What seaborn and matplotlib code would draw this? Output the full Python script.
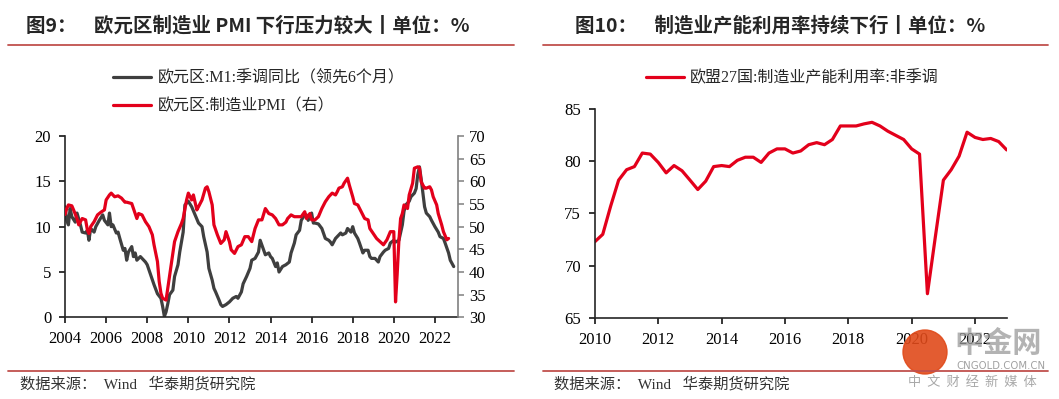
import matplotlib as mpl
import matplotlib.pyplot as plt
import seaborn as sns
import numpy as np
import pandas as pd
from matplotlib.patches import Ellipse

# 欧元区 M1 季调同比（领先6个月）
m1_dates = ['2004-01', '2004-02', '2004-03', '2004-04', '2004-05', '2004-07', '2004-08', '2004-10', '2004-11',
            '2005-01', '2005-02', '2005-03', '2005-04', '2005-06', '2005-07', '2005-09', '2005-11', '2005-12',
            '2006-02', '2006-03', '2006-04', '2006-05', '2006-07', '2006-08', '2006-09', '2006-11', '2006-12',
            '2007-01', '2007-02', '2007-04', '2007-05', '2007-06', '2007-07', '2007-09', '2007-10', '2007-12',
            '2008-01', '2008-03', '2008-04', '2008-05', '2008-07', '2008-09', '2008-10', '2008-11', '2008-12',
            '2009-01', '2009-02', '2009-04', '2009-05', '2009-07', '2009-08', '2009-10', '2009-11', '2009-12',
            '2010-01', '2010-03', '2010-05', '2010-07', '2010-09', '2010-10', '2010-12',
            '2011-01', '2011-03', '2011-04', '2011-05', '2011-07', '2011-08', '2011-09', '2011-11',
            '2012-01', '2012-03', '2012-05', '2012-06', '2012-08', '2012-09', '2012-11',
            '2013-01', '2013-02', '2013-04', '2013-06', '2013-07', '2013-09', '2013-10', '2013-12',
            '2014-01', '2014-02', '2014-04', '2014-05', '2014-06', '2014-08', '2014-10', '2014-12',
            '2015-01', '2015-03', '2015-04', '2015-06', '2015-07', '2015-09', '2015-10', '2015-11',
            '2016-01', '2016-02', '2016-03', '2016-05', '2016-07', '2016-09', '2016-11', '2016-12',
            '2017-01', '2017-03', '2017-05', '2017-06', '2017-07', '2017-09', '2017-10', '2017-12',
            '2018-01', '2018-02', '2018-04', '2018-05', '2018-07', '2018-08', '2018-10', '2018-11', '2018-12',
            '2019-02', '2019-04', '2019-05', '2019-07', '2019-08', '2019-10', '2019-11',
            '2020-01', '2020-02', '2020-04', '2020-06', '2020-07', '2020-08', '2020-10', '2020-11',
            '2021-01', '2021-02', '2021-03', '2021-04', '2021-05', '2021-07', '2021-08', '2021-10', '2021-11',
            '2022-01', '2022-03', '2022-04', '2022-06', '2022-07', '2022-09', '2022-10', '2022-12']
m1_values = [12.2, 10.7, 10.2, 12.0, 11.1, 10.5, 11.5, 10.2, 9.4,
             9.3, 9.6, 8.5, 9.8, 9.4, 10.0, 10.7, 11.3, 10.7,
             10.2, 11.5, 10.0, 10.2, 9.3, 9.4, 8.7, 7.4, 7.6,
             6.3, 7.2, 7.8, 6.7, 7.1, 6.3, 6.7, 6.5, 6.1,
             5.8, 4.7, 4.1, 3.6, 2.6, 2.1, 1.2, 0.1, 0.6,
             1.5, 2.5, 3.0, 4.5, 5.8, 7.2, 9.4, 12.4, 12.6,
             12.8, 12.2, 11.3, 10.4, 10.0, 8.9, 7.2,
             5.4, 4.1, 3.2, 2.8, 1.9, 1.4, 1.2, 1.4,
             1.7, 2.1, 2.3, 2.1, 2.8, 3.7, 4.5,
             5.4, 6.3, 6.5, 7.2, 8.5, 7.4, 6.9, 7.1,
             6.7, 6.5, 5.6, 6.0, 5.0, 5.6, 5.8, 6.1,
             7.1, 8.2, 9.1, 9.6, 10.7, 11.3, 11.3, 10.7,
             11.5, 10.4, 10.4, 10.3, 9.8, 8.7, 8.5, 8.3,
             8.0, 8.7, 9.1, 9.3, 9.1, 9.3, 9.8, 9.4,
             10.0, 9.3, 8.7, 8.2, 7.1, 7.4, 7.4, 6.7, 6.5,
             6.5, 6.1, 6.7, 7.2, 7.4, 7.6, 8.2,
             8.5, 8.3, 8.5, 10.2, 11.7, 12.4, 12.8, 13.3,
             13.7, 14.2, 15.7, 16.6, 15.3, 12.2, 11.5, 11.1, 10.7,
             10.0, 9.4, 8.9, 8.7, 8.2, 7.1, 6.3, 5.6]

# 欧元区 制造业PMI（右轴）
pmi_dates = ['2004-01', '2004-02', '2004-03', '2004-05', '2004-06', '2004-08', '2004-09', '2004-11',
             '2005-01', '2005-02', '2005-03', '2005-04', '2005-06', '2005-08', '2005-10', '2005-12',
             '2006-01', '2006-03', '2006-04', '2006-06', '2006-08', '2006-10', '2006-12',
             '2007-01', '2007-04', '2007-05', '2007-07', '2007-08', '2007-10', '2007-12',
             '2008-02', '2008-04', '2008-05', '2008-07', '2008-08', '2008-09', '2008-10', '2008-12',
             '2009-01', '2009-03', '2009-05', '2009-07', '2009-09', '2009-10', '2009-12',
             '2010-01', '2010-03', '2010-04', '2010-06', '2010-07', '2010-09', '2010-11', '2010-12',
             '2011-01', '2011-03', '2011-04', '2011-06', '2011-08', '2011-10', '2011-11',
             '2012-01', '2012-02', '2012-04', '2012-06', '2012-08', '2012-10', '2012-12',
             '2013-02', '2013-04', '2013-06', '2013-08', '2013-10', '2013-12',
             '2014-02', '2014-04', '2014-06', '2014-08', '2014-10', '2014-11',
             '2015-01', '2015-03', '2015-05', '2015-07', '2015-09', '2015-10', '2015-12',
             '2016-01', '2016-03', '2016-05', '2016-07', '2016-09', '2016-11',
             '2017-01', '2017-03', '2017-04', '2017-05', '2017-07', '2017-08', '2017-10', '2017-11',
             '2018-01', '2018-02', '2018-04', '2018-06', '2018-08', '2018-10', '2018-11',
             '2019-01', '2019-03', '2019-05', '2019-07', '2019-09', '2019-11',
             '2020-01', '2020-02', '2020-03', '2020-04', '2020-05', '2020-06', '2020-07', '2020-09', '2020-10', '2020-12',
             '2021-01', '2021-03', '2021-04', '2021-05', '2021-07', '2021-08', '2021-10', '2021-11', '2021-12',
             '2022-02', '2022-03', '2022-05', '2022-06', '2022-08', '2022-09']
pmi_values = [52.7, 54.0, 54.8, 54.6, 53.7, 51.8, 50.4, 51.8,
              51.5, 49.3, 48.5, 50.0, 51.1, 52.6, 53.2, 53.7,
              55.9, 57.0, 57.4, 56.6, 56.8, 56.3, 55.4,
              55.4, 55.1, 54.0, 51.8, 52.9, 52.6, 51.1,
              50.0, 48.2, 46.0, 42.3, 37.9, 35.3, 34.2, 33.8,
              36.4, 41.5, 46.7, 48.9, 50.7, 51.8, 55.9,
              57.4, 55.9, 57.0, 53.7, 54.4, 55.9, 58.5, 58.8,
              57.7, 54.8, 50.4, 48.2, 46.3, 47.1, 48.9,
              46.7, 44.9, 44.1, 45.6, 46.0, 47.8, 47.8,
              46.7, 49.6, 51.5, 51.5, 54.0, 52.9,
              52.6, 51.8, 50.4, 50.4, 51.0, 51.8,
              52.6, 52.2, 52.2, 52.2, 53.3, 51.8, 52.9,
              51.5, 51.5, 52.2, 54.0, 55.5, 56.6,
              57.4, 57.0, 57.7, 58.5, 58.8, 59.6, 60.7, 59.2,
              56.6, 55.1, 54.8, 53.3, 51.8, 51.5, 49.6,
              48.5, 47.4, 46.7, 46.0, 47.1, 48.9,
              48.9, 33.4, 39.5, 47.0, 51.8, 52.9, 54.8, 54.0, 57.0, 59.6,
              62.9, 63.2, 63.0, 59.9, 58.5, 58.5, 58.8, 58.1, 56.6,
              54.8, 52.9, 50.4, 48.9, 47.1, 47.4]

# 欧盟27国 制造业产能利用率（非季调，季度）
cu_quarters = pd.period_range('2010Q1', '2023Q1', freq='Q')
cu_values = [72.3, 73.0, 75.7, 78.2, 79.2, 79.5, 80.8, 80.7, 79.9, 78.9, 79.6, 79.1, 78.2,
             77.3, 78.1, 79.5, 79.6, 79.5, 80.1, 80.4, 80.4, 79.9, 80.8, 81.2, 81.2, 80.8,
             81.0, 81.6, 81.8, 81.6, 82.1, 83.4, 83.4, 83.4, 83.6, 83.75, 83.4, 82.9, 82.5,
             82.1, 81.2, 80.7, 67.3, 72.8, 78.2, 79.2, 80.5, 82.8, 82.3, 82.1, 82.2, 81.9, 81.1]

left_years = list(range(2004, 2023, 2))
right_years = list(range(2010, 2023, 2))

RED = '#E3001B'
GREY = '#3F3F3F'
RULE = '#C0504D'

sns.set_style('ticks')
plt.rcParams['font.family'] = ['Liberation Serif', 'Noto Sans CJK SC']
plt.rcParams['axes.linewidth'] = 1.2
CJK = ['Noto Sans CJK SC', 'DejaVu Sans']
MIX = ['Liberation Serif', 'Noto Sans CJK SC']

m1 = pd.DataFrame({'date': pd.to_datetime(m1_dates), 'value': m1_values})
pmi = pd.DataFrame({'date': pd.to_datetime(pmi_dates), 'value': pmi_values})
cu = pd.DataFrame({'date': cu_quarters.to_timestamp(), 'value': cu_values})

W, H = 1059, 399
fig = plt.figure(figsize=(W / 100, H / 100), dpi=100)

# ---------- 图9 ----------
ax1 = fig.add_axes([0.0614, 0.2047, 0.3708, 0.4544])
ax1b = ax1.twinx()
sns.lineplot(data=m1, x='date', y='value', ax=ax1, color=GREY, lw=2.3,
             label='欧元区:M1:季调同比（领先6个月）', legend=False)
sns.lineplot(data=pmi, x='date', y='value', ax=ax1b, color=RED, lw=2.3,
             label='欧元区:制造业PMI（右）', legend=False)
ax1.set_ylim(0, 20)
ax1.set_yticks([0, 5, 10, 15, 20])
ax1b.set_ylim(30, 70)
ax1b.set_yticks(range(30, 71, 5))
ax1.set_xlim(pd.Timestamp('2004-01-01'), pd.Timestamp('2023-02-10'))
ax1.set_xticks([pd.Timestamp(f'{y}-01-01') for y in left_years])
ax1.set_xticklabels([str(y) for y in left_years])
for a in (ax1, ax1b):
    a.set_xlabel('')
    a.set_ylabel('')
    a.spines['top'].set_visible(False)
ax1.spines['right'].set_visible(False)
ax1b.spines['left'].set_visible(False)
ax1b.spines['bottom'].set_visible(False)
ax1b.spines['right'].set_color('#808080')
ax1.tick_params(labelsize=12, length=4, width=1.1, colors='black', pad=6)
ax1b.tick_params(labelsize=12, length=4, width=1.1, color='#808080', labelcolor='black', pad=4)
h1, l1 = ax1.get_legend_handles_labels()
h2, l2 = ax1b.get_legend_handles_labels()
fig.legend(h1 + h2, l1 + l2, loc='upper left', bbox_to_anchor=(0.093, 0.86),
           frameon=False, handlelength=2.4, prop={'family': MIX, 'size': 11.5},
           labelspacing=0.75, handletextpad=0.4)

# ---------- 图10 ----------
ax2 = fig.add_axes([0.5618, 0.2038, 0.3888, 0.5223])
sns.lineplot(data=cu, x='date', y='value', ax=ax2, color=RED, lw=2.3,
             label='欧盟27国:制造业产能利用率:非季调', legend=False)
ax2.set_ylim(65, 85)
ax2.set_yticks([65, 70, 75, 80, 85])
ax2.set_xlim(pd.Timestamp('2010-01-01'), pd.Timestamp('2023-01-01'))
ax2.set_xticks([pd.Timestamp(f'{y}-01-01') for y in right_years])
ax2.set_xticklabels([str(y) for y in right_years])
ax2.set_xlabel('')
ax2.set_ylabel('')
sns.despine(ax=ax2)
ax2.tick_params(labelsize=12, length=4, width=1.1, colors='black', pad=6)
h3, l3 = ax2.get_legend_handles_labels()
fig.legend(h3, l3, loc='upper left', bbox_to_anchor=(0.596, 0.86),
           frameon=False, handlelength=2.4, prop={'family': MIX, 'size': 11.5},
           handletextpad=0.4)

# ---------- titles, rules, sources ----------
fig.text(0.025, 0.935, '图9：    欧元区制造业 PMI 下行压力较大丨单位：%', family=CJK,
         fontsize=14, fontweight='bold', va='center')
fig.text(0.543, 0.935, '图10：    制造业产能利用率持续下行丨单位：%', family=CJK,
         fontsize=14, fontweight='bold', va='center')
for x0, x1 in [(0.008, 0.485), (0.513, 0.99)]:
    fig.add_artist(plt.Line2D([x0, x1], [0.886, 0.886], color=RULE, lw=1.3))
    fig.add_artist(plt.Line2D([x0, x1], [0.069, 0.069], color=RULE, lw=1.3))
fig.text(0.019, 0.038, '数据来源：  Wind   华泰期货研究院', family=MIX,
         fontsize=11, color='#333333', va='center')
fig.text(0.523, 0.038, '数据来源：  Wind   华泰期货研究院', family=MIX,
         fontsize=11, color='#333333', va='center')

# watermark
fig.add_artist(Ellipse((925 / W, 1 - 352 / H), 44 / W, 44 / H, transform=fig.transFigure,
                       color='#E04A1A', alpha=0.9))
fig.text(998 / W, 1 - 343 / H, '中金网', family=CJK, fontsize=21, fontweight='bold',
         color='#9A9A9A', alpha=0.75, ha='center', va='center')
fig.text(1001 / W, 1 - 366 / H, 'CNGOLD.COM.CN', family=['DejaVu Sans'], fontsize=7.3,
         color='#A0A0A0', ha='center', va='center')
fig.text(972 / W, 1 - 382 / H, '中  文  财  经  新  媒  体', family=CJK, fontsize=9.5,
         color='#A8A8A8', ha='center', va='center')

fig.savefig('out.png', dpi=100)
